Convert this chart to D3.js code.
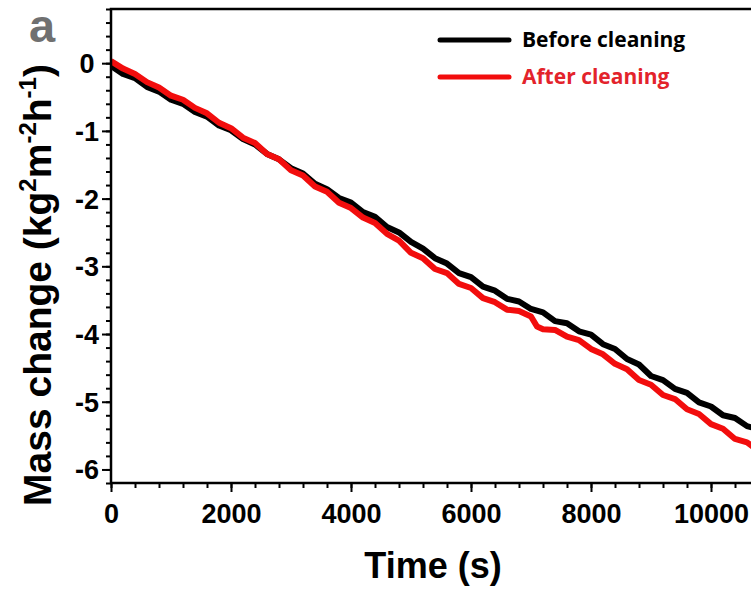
<!DOCTYPE html>
<html>
<head>
<meta charset="utf-8">
<script src="https://cdn.jsdelivr.net/npm/d3@7"></script>
<style>
  body { margin: 0; background: #fff; }
  svg { display: block; }
</style>
</head>
<body>
<svg class="chart"></svg>
<script>
'use strict';

var timeBefore = [0, 200, 400, 600, 800, 1000, 1200, 1400, 1600, 1800, 2000, 2200, 2400, 2600, 2800,
    3000, 3200, 3400, 3600, 3800, 4000, 4200, 4400, 4600, 4800, 5000, 5200, 5400, 5600, 5800,
    6000, 6200, 6400, 6600, 6800, 7000, 7200, 7400, 7600, 7800, 8000, 8200, 8400, 8600, 8800,
    9000, 9200, 9400, 9600, 9800, 10000, 10200, 10400, 10600, 10800];
var massBefore = [-0.04, -0.16, -0.22, -0.35, -0.42, -0.54, -0.60, -0.72, -0.79, -0.92, -0.99, -1.12, -1.20, -1.34, -1.42,
    -1.55, -1.63, -1.78, -1.86, -1.99, -2.06, -2.20, -2.27, -2.42, -2.50, -2.64, -2.74, -2.88, -2.96, -3.10,
    -3.16, -3.30, -3.36, -3.48, -3.52, -3.63, -3.68, -3.81, -3.84, -3.96, -4.01, -4.15, -4.22, -4.37, -4.45,
    -4.62, -4.68, -4.81, -4.87, -5.01, -5.07, -5.20, -5.24, -5.36, -5.41];

var timeAfter = [0, 200, 400, 600, 800, 1000, 1200, 1400, 1600, 1800, 2000, 2200, 2400, 2600, 2800,
    3000, 3200, 3400, 3600, 3800, 4000, 4200, 4400, 4600, 4800, 5000, 5200, 5400, 5600, 5800,
    6000, 6200, 6400, 6600, 6800, 7000, 7100, 7200, 7400, 7600, 7800, 8000, 8200, 8400, 8600, 8800,
    9000, 9200, 9400, 9600, 9800, 10000, 10200, 10400, 10600, 10800];
var massAfter = [0.03, -0.08, -0.16, -0.28, -0.36, -0.48, -0.54, -0.66, -0.74, -0.88, -0.96, -1.10, -1.18, -1.34, -1.42,
    -1.58, -1.66, -1.82, -1.90, -2.06, -2.14, -2.28, -2.36, -2.52, -2.62, -2.80, -2.88, -3.04, -3.10, -3.26,
    -3.32, -3.47, -3.53, -3.64, -3.66, -3.74, -3.89, -3.93, -3.94, -4.04, -4.09, -4.22, -4.30, -4.44, -4.52, -4.68,
    -4.75, -4.90, -4.96, -5.11, -5.18, -5.33, -5.40, -5.55, -5.60, -5.73];

var xTicks = [0, 2000, 4000, 6000, 8000, 10000];
var yTicks = [0, -1, -2, -3, -4, -5, -6];
var seriesNames = ['Before cleaning', 'After cleaning'];

var width = 751;
var height = 589;
var plotLeft = 111, plotTop = 9, plotBottom = 483;

var svg = d3.select('.chart')
    .attr('width', width)
    .attr('height', height);

var x = d3.scaleLinear().domain([0, 10710]).range([plotLeft, plotLeft + 642.6]);
var y = d3.scaleLinear().domain([-6.2, 0.8]).range([plotBottom, plotTop]);

svg.append('defs').append('clipPath').attr('id', 'plot')
  .append('rect')
    .attr('x', plotLeft).attr('y', plotTop)
    .attr('width', width - plotLeft).attr('height', plotBottom - plotTop);

// data lines
var line = d3.line()
    .x(function (d) {return x(d[0]);})
    .y(function (d) {return y(d[1]);});

var series = [
  {name: seriesNames[0], color: '#000', pts: d3.zip(timeBefore, massBefore)},
  {name: seriesNames[1], color: '#f20d0d', pts: d3.zip(timeAfter, massAfter)}
];

svg.append('g').attr('clip-path', 'url(#plot)')
  .selectAll('path')
    .data(series)
    .enter().append('path')
    .attr('d', function (d) {return line(d.pts);})
    .style('fill', 'none')
    .style('stroke', function (d) {return d.color;})
    .style('stroke-width', 6)
    .style('stroke-linejoin', 'round');

// axes
var minorX = d3.range(0, 10801, 400);
var minorY = d3.range(-6.2, 0.81, 0.2);

var xAxisMinor = d3.axisBottom(x).tickValues(minorX).tickSize(5).tickFormat('');
var xAxis = d3.axisBottom(x).tickValues(xTicks).tickSize(9).tickPadding(12).tickFormat(d3.format('d'));
var yAxisMinor = d3.axisLeft(y).tickValues(minorY).tickSize(5).tickFormat('');
var yAxis = d3.axisLeft(y).tickValues(yTicks).tickSize(9).tickPadding(12).tickFormat(function (d) {return d === 0 ? '0' : '-' + Math.abs(d);});

function styleAxis (g) {
  g.select('.domain').remove();
  g.selectAll('line').style('stroke', '#000').style('stroke-width', 2);
  g.selectAll('text')
    .style('font-family', 'Liberation Sans, Arial, sans-serif')
    .style('font-weight', 'bold')
    .style('font-size', '27px')
    .style('fill', '#000');
}

svg.append('g').attr('transform', 'translate(0,' + plotBottom + ')').call(xAxisMinor).call(styleAxis);
svg.append('g').attr('transform', 'translate(0,' + plotBottom + ')').call(xAxis).call(styleAxis);
svg.append('g').attr('transform', 'translate(' + plotLeft + ',0)').call(yAxisMinor).call(styleAxis);
var yg = svg.append('g').attr('transform', 'translate(' + plotLeft + ',0)').call(yAxis).call(styleAxis);
yg.selectAll('text').attr('text-anchor', 'middle').attr('x', -24).attr('dy', '0.35em');

// frame
svg.append('path')
    .attr('d', 'M' + (width + 2) + ',' + plotTop + 'H' + plotLeft + 'V' + plotBottom + 'H' + (width + 2))
    .style('fill', 'none')
    .style('stroke', '#000')
    .style('stroke-width', 2.5);

// axis titles
svg.append('text')
    .attr('x', 433).attr('y', 578)
    .attr('text-anchor', 'middle')
    .style('font', 'bold 36px Liberation Sans, Arial, sans-serif')
    .text('Time (s)');

var yt = svg.append('text')
    .attr('transform', 'translate(51,285) rotate(-90)')
    .attr('text-anchor', 'middle')
    .style('font', 'bold 39px Liberation Sans, Arial, sans-serif');
yt.append('tspan').text('Mass change (kg');
yt.append('tspan').attr('dy', -15).style('font-size', '24px').text('2');
yt.append('tspan').attr('dy', 15).text('m');
yt.append('tspan').attr('dy', -15).style('font-size', '24px').text('-2');
yt.append('tspan').attr('dy', 15).text('h');
yt.append('tspan').attr('dy', -15).style('font-size', '24px').text('-1');
yt.append('tspan').attr('dy', 15).text(')');

// panel letter
svg.append('text')
    .attr('x', 29).attr('y', 42)
    .style('font', 'bold 47px Liberation Sans, Arial, sans-serif')
    .style('fill', '#707070')
    .text('a');

// legend
var legendY = [40, 77];
var legendText = ['#000', '#e3232b'];
var legend = svg.selectAll('.legend')
    .data(series)
    .enter().append('g')
    .attr('class', 'legend')
    .attr('transform', function (d, i) {return 'translate(0,' + legendY[i] + ')';});

legend.append('line')
    .attr('x1', 440).attr('x2', 509)
    .style('stroke', function (d) {return d.color;})
    .style('stroke-width', 5)
    .style('stroke-linecap', 'round');

legend.append('text')
    .attr('x', 522).attr('y', 7)
    .style('font', 'bold 21px Open Sans, sans-serif')
    .style('fill', function (d, i) {return legendText[i];})
    .text(function (d) {return d.name;});
</script>
</body>
</html>
